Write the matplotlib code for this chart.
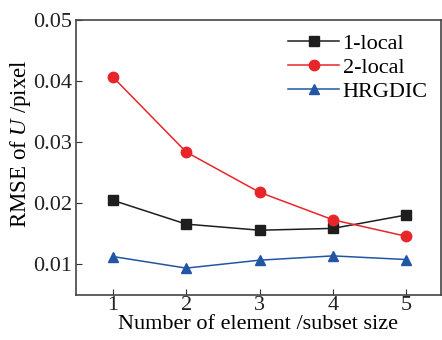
import matplotlib
matplotlib.use('Agg')
import matplotlib.pyplot as plt

plt.rcParams['font.family'] = ['Liberation Serif', 'DejaVu Serif']
plt.rcParams['mathtext.fontset'] = 'custom'
plt.rcParams['mathtext.it'] = 'Liberation Serif:italic'
plt.rcParams['mathtext.rm'] = 'Liberation Serif'

# data
subset = [1, 2, 3, 4, 5]
local1 = [0.0205, 0.0166, 0.0156, 0.0159, 0.0181]
local2 = [0.0407, 0.0284, 0.0218, 0.0173, 0.0146]
hrgdic = [0.0113, 0.0094, 0.0107, 0.0114, 0.0108]

fig = plt.figure(figsize=(4.42, 3.4), dpi=100)
ax = fig.add_axes([76/442, 45/340, 365/442, 275/340])

ax.plot(subset, local1, color='#1e1e1e', marker='s', ms=6.5, lw=1.1, label='1-local')
ax.plot(subset, local2, color='#e8262a', marker='o', ms=7.5, lw=1.1, label='2-local')
ax.plot(subset, hrgdic, color='#2156a5', marker='^', ms=7.5, lw=1.1, label='HRGDIC')

ax.set_xlim(0.5, 5.47)
ax.set_ylim(0.005, 0.05)
ax.set_xticks(subset)
ax.set_yticks([0.01, 0.02, 0.03, 0.04, 0.05])
ax.set_yticklabels(['0.01', '0.02', '0.03', '0.04', '0.05'])
ax.tick_params(direction='in', length=4, labelsize=16, pad=3,
               colors='#333333', labelcolor='#222222')
ax.tick_params(axis='x', pad=1)
for s in ax.spines.values():
    s.set_color('#444444')
    s.set_linewidth(1.2)

ax.set_xlabel('Number of element /subset size', fontsize=16, labelpad=0)
ax.set_ylabel('RMSE of $U$ /pixel', fontsize=16.5, labelpad=0, y=0.55)

ax.legend(loc='upper right', frameon=False, fontsize=16, handlelength=2.3,
          handletextpad=0.15, labelspacing=0.15, borderaxespad=0.3,
          borderpad=0.3)

fig.savefig('out.png', dpi=100)
